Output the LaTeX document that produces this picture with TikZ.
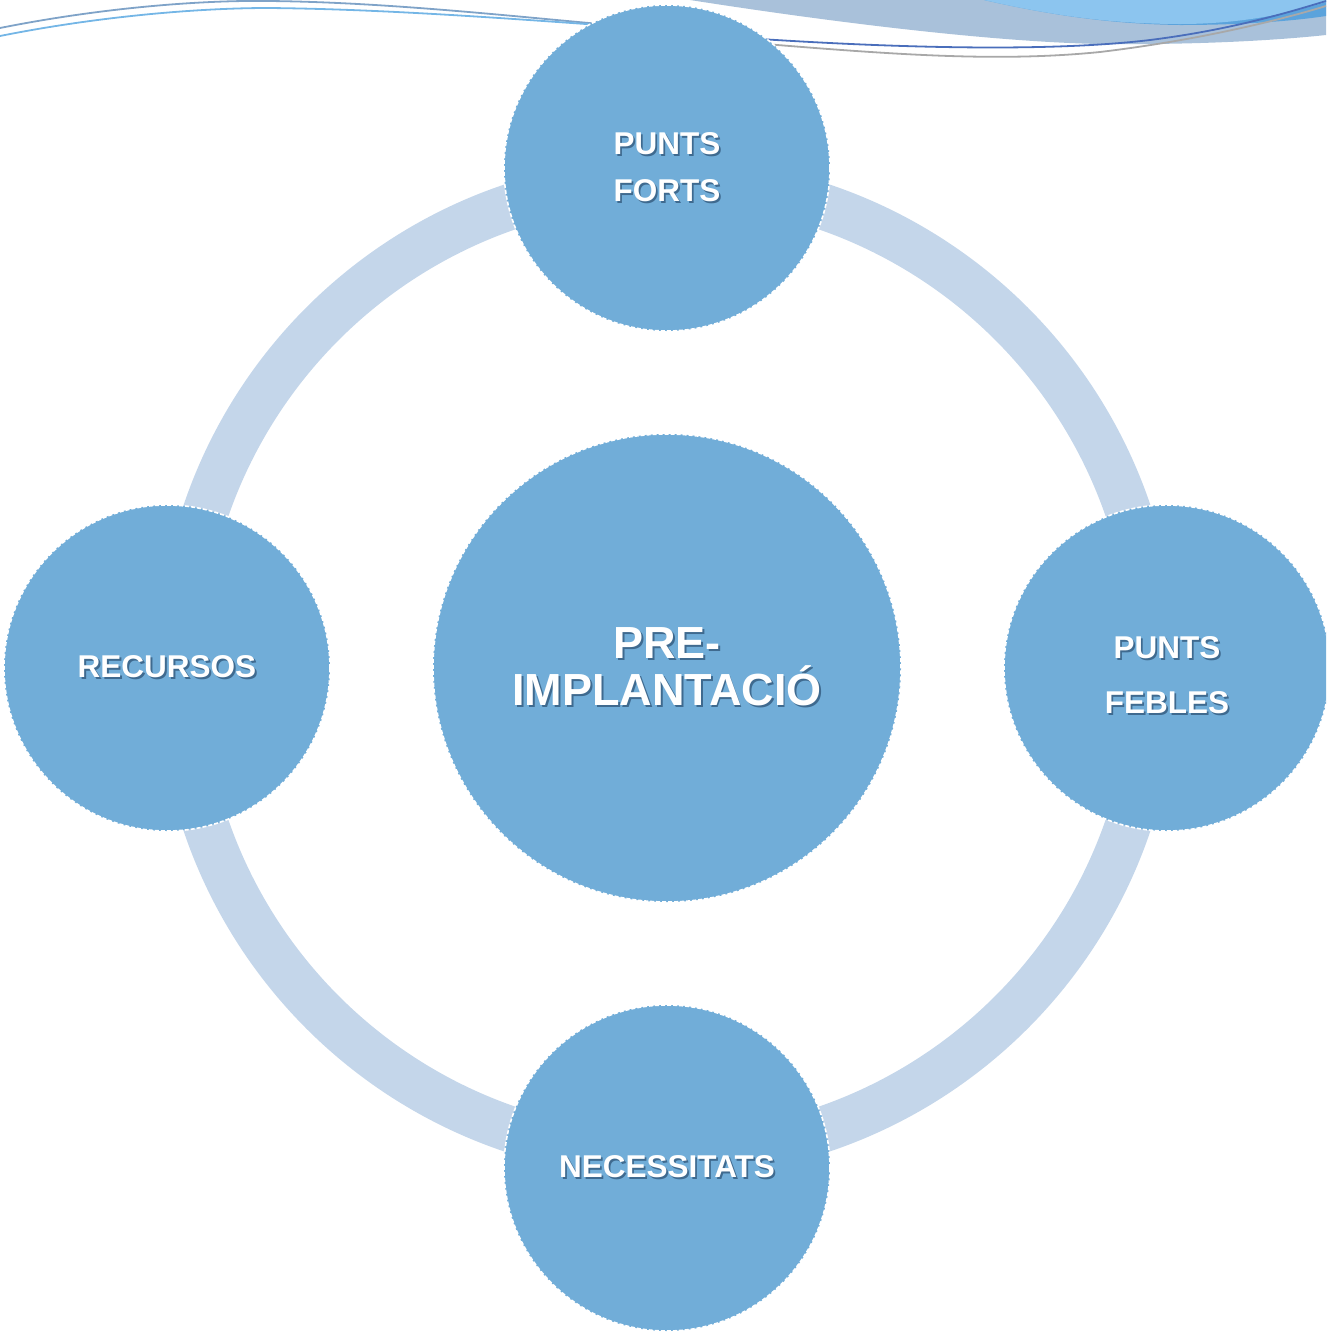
\documentclass[tikz,border=0pt]{standalone}
\usepackage{fontspec}
\setmainfont{Liberation Sans}
\definecolor{circ}{HTML}{71ADD8}
\definecolor{ringc}{HTML}{C4D6EA}
\definecolor{bandg}{HTML}{A9C1DA}
\definecolor{bandl}{HTML}{8CC5EF}
\definecolor{bandd}{HTML}{5BA3DC}
\definecolor{lineb}{HTML}{4A6EBB}
\definecolor{lineg}{HTML}{A8A8A8}
\definecolor{linela}{HTML}{7FA3C8}
\definecolor{linelb}{HTML}{74B6E6}
\definecolor{shd}{HTML}{3F6A8F}
\newcommand\shtxt[1]{\makebox[0pt][l]{\hspace{1.8pt}\raisebox{-2pt}{\color{shd}#1}}#1}
\begin{document}
\begin{tikzpicture}[x=1pt,y=-1pt,
  bubtext/.style={text=white, align=center, font=\bfseries\fontsize{31.5}{47}\selectfont},
  bub/.style={circle, fill=circ, draw=white, line width=1.6pt, dash pattern=on 4pt off 2pt,
    inner sep=0pt, minimum size=#1, bubtext},
  ring/.style={draw=ringc, line width=46pt},
  deco/.style={line width=1.8pt}
]
\useasboundingbox (0,0) rectangle (1326,1334);
\clip (0,0) rectangle (1326,1334);

% top decoration
\fill[bandg] (690,0) -- (1326,0) -- (1326,35) .. controls (1280,40) and (1200,45) .. (1100,44) .. controls (1000,42) and (850,25) .. (690,0) -- cycle;
\fill[bandd] (984,0) .. controls (1050,15) and (1110,24) .. (1180,25) .. controls (1250,25) and (1300,20) .. (1326,16) -- (1326,0) -- cycle;
\fill[bandl] (984,0) .. controls (1050,15) and (1110,24) .. (1180,24) .. controls (1250,24) and (1300,10) .. (1326,2) -- (1326,0) -- cycle;
\draw[deco, linela] (0,28) .. controls (100,8) and (200,0) .. (268,1) .. controls (380,2) and (500,15) .. (600,24);
\draw[deco, linelb] (0,36) .. controls (100,16) and (200,8) .. (268,8) .. controls (380,9) and (500,18) .. (600,25);
\draw[deco, lineb] (760,39) .. controls (900,48) and (1050,52) .. (1150,40) .. controls (1230,30) and (1290,12) .. (1326,1);
\draw[deco, lineg] (765,44) .. controls (900,55) and (1000,62) .. (1100,52) .. controls (1200,40) and (1280,20) .. (1326,6);

% ring
\coordinate (o) at (667,668);
\draw[ring] (o) circle[radius=487];

% circles
\node[bub=468pt, font=\bfseries\fontsize{45}{47}\selectfont] (c) at (667,668) {\shtxt{PRE-}\\\shtxt{IMPLANTACIÓ}};
\node[bub=326pt] (t) at (667,168) {\shtxt{PUNTS}\\\shtxt{FORTS}};
\node[bub=326pt, label={[bubtext, yshift=-8pt]center:{\shtxt{PUNTS}\\[8pt]\shtxt{FEBLES}}}] (r) at (1167,668) {};
\node[bub=326pt] (l) at (167,668) {\shtxt{RECURSOS}};
\node[bub=326pt] (b) at (667,1168) {\shtxt{NECESSITATS}};
\end{tikzpicture}
\end{document}
